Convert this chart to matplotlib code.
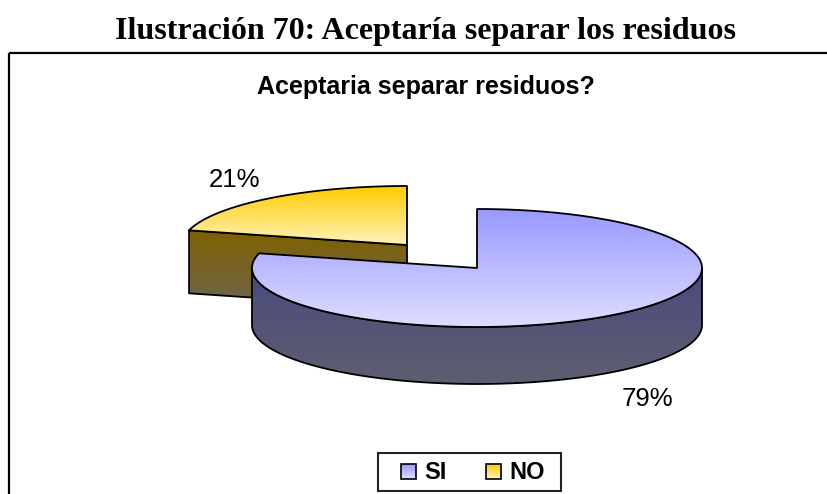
import numpy as np
import matplotlib
matplotlib.use("Agg")
import matplotlib.pyplot as plt
from matplotlib.colors import LinearSegmentedColormap
from matplotlib.patches import Polygon, Rectangle

categories = ["SI", "NO"]
percentages = [79, 21]
value_labels = ["79%", "21%"]
heading = "Ilustración 70: Aceptaría separar los residuos"
chart_title = "Aceptaria separar residuos?"

W, H = 828, 494
fig = plt.figure(figsize=(W / 100, H / 100), dpi=100, facecolor="white")
ax = fig.add_axes([0, 0, 1, 1])

RX, RY = 225, 59
centers = {"SI": (477, 268), "NO": (407, 245)}
depths = {"SI": 57, "NO": 63}
top_cols = {"SI": ("#9999FF", "#DEDEFF"), "NO": ("#FFCC00", "#FFF3BC")}
side_cols = {"SI": ("#4A4A80", "#5E5E70"), "NO": ("#806000", "#6C6650")}


def gradient(poly, c0, c1, y0, y1, z):
    cmap = LinearSegmentedColormap.from_list("g", [c0, c1])
    xs = poly[:, 0]
    im = ax.imshow(np.linspace(0, 1, 256).reshape(-1, 1), cmap=cmap, aspect="auto",
                   extent=(xs.min(), xs.max(), y1, y0), zorder=z, interpolation="bilinear")
    p = Polygon(poly, closed=True, fc="none", ec="black", lw=1.3, zorder=z + 0.1, joinstyle="round")
    ax.add_patch(p)
    im.set_clip_path(p)


def pt(cx, cy, a):
    return np.column_stack([cx + RX * np.cos(a), cy - RY * np.sin(a)])


# slices run clockwise from 12 o'clock; NO is the last one before 12 o'clock
total = sum(percentages)
span = {c: 2 * np.pi * p / total for c, p in zip(categories, percentages)}

# NO slice (pulled out, behind)
cx, cy = centers["NO"]
d = depths["NO"]
arc = pt(cx, cy, np.linspace(np.pi / 2, np.pi / 2 + span["NO"], 200))
end = arc[-1]
wall = np.array([end, [cx, cy], [cx, cy + d], end + [0, d]])
gradient(wall, *side_cols["NO"], end[1], cy + d, 2)
gradient(np.vstack([[cx, cy], arc]), *top_cols["NO"], cy - RY, cy, 3)

# SI slice (front)
cx, cy = centers["SI"]
d = depths["SI"]
arc = pt(cx, cy, np.linspace(np.pi / 2 - span["SI"], np.pi / 2, 400))
front = pt(cx, cy, np.linspace(np.pi, 2 * np.pi, 300))
wall = np.vstack([front, (front + [0, d])[::-1]])
gradient(wall, *side_cols["SI"], cy, cy + RY + d, 6)
gradient(np.vstack([[cx, cy], arc]), *top_cols["SI"], cy - RY, cy + RY, 7)

# the chart frame runs off the right and bottom of the image
ax.add_patch(Rectangle((9.5, 53.5), 840, 470, fc="none", ec="black", lw=1.6, zorder=1))

ax.text(426, 31, heading, family="Liberation Serif", weight="bold", fontsize=23,
        ha="center", va="center", color="black")
ax.text(426, 87, chart_title, family="Liberation Sans", weight="bold", fontsize=18,
        ha="center", va="center", color="black")
ax.text(235, 180, value_labels[1], family="Liberation Sans", fontsize=18.5, ha="center", va="center")
ax.text(647, 399, value_labels[0], family="Liberation Sans", fontsize=18.5, ha="center", va="center")

ax.add_patch(Rectangle((378, 453), 183, 37.5, fc="white", ec="#222222", lw=1.5, zorder=3))
for cat, bx, tx in zip(categories, (401, 486), (424, 509)):
    cmap = LinearSegmentedColormap.from_list("g", top_cols[cat])
    ax.imshow(np.linspace(0, 1, 64).reshape(-1, 1), cmap=cmap, aspect="auto",
              extent=(bx, bx + 15, 479, 464), zorder=4)
    ax.add_patch(Rectangle((bx, 464), 15, 15, fc="none", ec="black", lw=1.2, zorder=5))
    ax.text(tx, 472, cat, family="Liberation Sans", weight="bold", fontsize=17,
            ha="left", va="center", zorder=5)

ax.set_xlim(0, W)
ax.set_ylim(H, 0)
ax.axis("off")
fig.savefig("out.png", dpi=100)
